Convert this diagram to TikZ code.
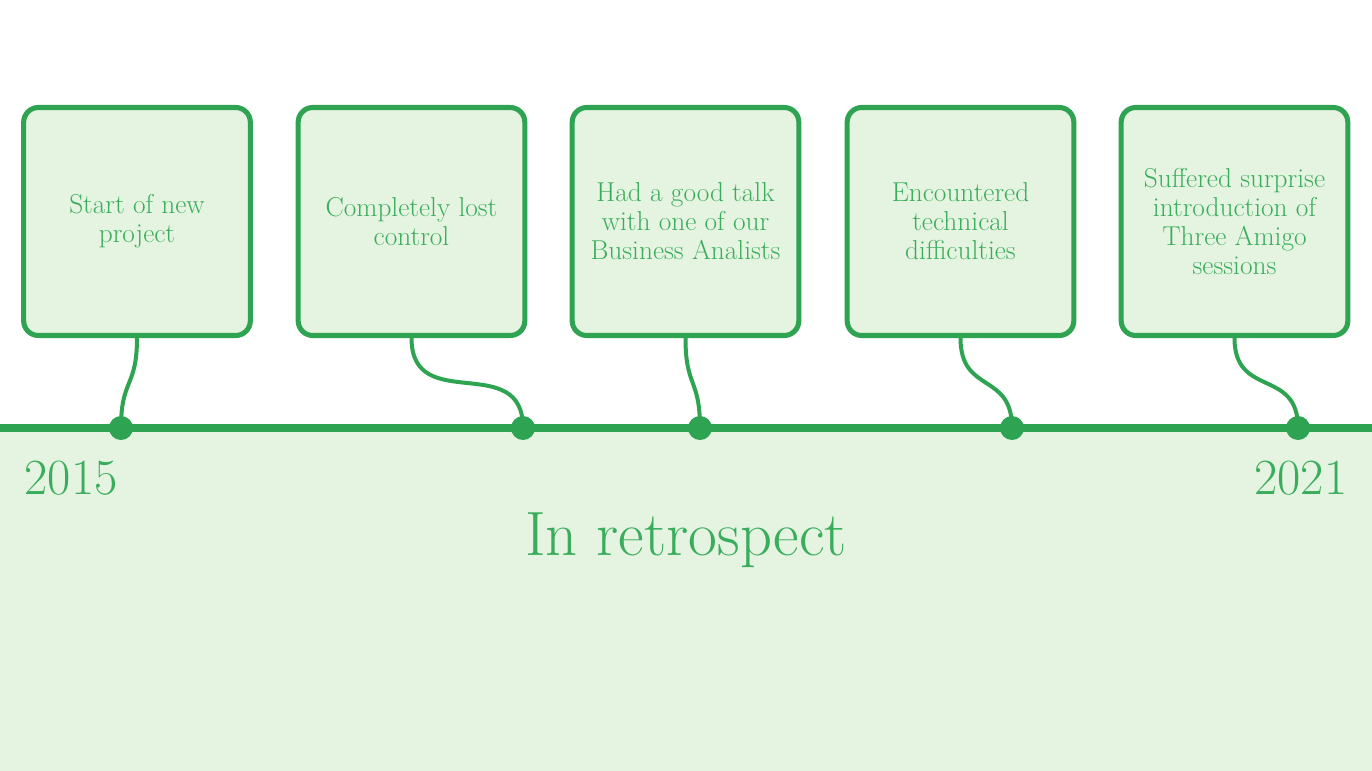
\documentclass[tikz,border=0pt]{standalone}
\usepackage{tikz}
\definecolor{tlgreen}{HTML}{2EA352}
\definecolor{tltext}{HTML}{3AAD5C}
\definecolor{tlfill}{HTML}{E5F4E0}
\begin{document}
\begin{tikzpicture}[x=0.75pt, y=-0.75pt,
    event/.style={draw=tlgreen, fill=tlfill, line width=3.8pt, rounded corners=11pt,
      minimum width=170pt, minimum height=171pt, align=center, text=tltext,
      font=\fontsize{20.5}{21.75}\selectfont},
    link/.style={draw=tlgreen, line width=3pt},
    dot/.style={circle, fill=tlgreen, inner sep=0pt, minimum size=18pt}]
    \useasboundingbox (0,0) rectangle (1372,771);
    \fill[tlfill] (0,428) rectangle (1372,771);
    \draw[tlgreen, line width=6pt] (0,428) -- (1372,428);
    % event boxes
    \node[event] (ev1) at (137,221.5) {Start of new\\project};
    \node[event] (ev2) at (411.5,221.5) {Completely lost\\control};
    \node[event] (ev3) at (685.5,221.5) {Had a good talk\\with one of our\\Business Analists};
    \node[event] (ev4) at (960.5,221.5) {Encountered\\technical\\difficulties};
    \node[event] (ev5) at (1234.5,221.5) {Suffered surprise\\introduction of\\Three Amigo\\sessions};
    % dots on the line
    \node[dot] (d1) at (121,428) {};
    \node[dot] (d2) at (523,428) {};
    \node[dot] (d3) at (700,428) {};
    \node[dot] (d4) at (1012,428) {};
    \node[dot] (d5) at (1298,428) {};
    \foreach \i in {1,...,5}
      \draw[link] (ev\i.south) to[out=-90, in=90, looseness=1.4] (d\i.center);
    % labels
    \node[anchor=west, text=tltext, font=\fontsize{38}{40}\selectfont] (start) at (20,478) {2015};
    \node[anchor=east, text=tltext, font=\fontsize{38}{40}\selectfont] (end) at (1352,478) {2021};
    \node[text=tltext, font=\fontsize{47}{50}\selectfont] (title) at (686,540) {In retrospect};
\end{tikzpicture}
\end{document}
